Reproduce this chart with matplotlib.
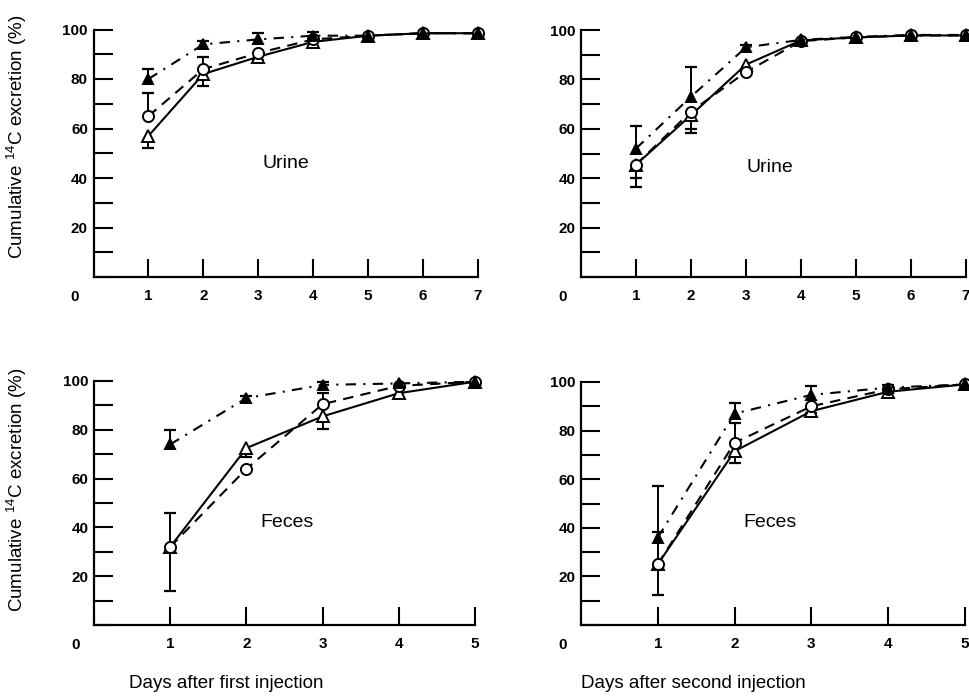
import matplotlib
matplotlib.use('Agg')
import matplotlib.pyplot as plt

plt.rcParams['font.family'] = ['Liberation Sans', 'DejaVu Sans']

W, H = 969, 696

days7 = [1, 2, 3, 4, 5, 6, 7]
days5 = [1, 2, 3, 4, 5]

# Urine, first injection
u1_open_tri = [57, 82, 89, 95, 97.5, 98.5, 98.5]
u1_circle = [65, 84, 90.5, 96, 97.5, 98.5, 98.5]
u1_fill_tri = [80, 94, 96, 97.5, 97.5, 98.5, 98.5]
u1_open_tri_lo = [5, 5, 1.5, 0, 0, 0, 0]
u1_circle_up = [9.5, 5, 0, 0, 0, 0, 0]
u1_fill_tri_up = [4, 1.5, 2.5, 1.5, 0, 0, 0]

# Urine, second injection
u2_open_tri = [45.5, 65.5, 86, 95.8, 97, 97.8, 97.8]
u2_circle = [45.5, 67, 83, 95.5, 97, 97.8, 97.8]
u2_fill_tri = [52, 73, 93, 96, 97.2, 98, 98]
u2_open_tri_lo = [5.5, 5.5, 0, 0, 0, 0, 0]
u2_circle_lo = [9, 8.5, 0, 0, 0, 0, 0]
u2_fill_tri_up = [9, 12, 1, 0, 0, 0, 0]

# Feces, first injection
f1_open_tri = [32, 72.5, 85.5, 95, 99.7]
f1_circle = [32, 64, 90.5, 98, 99.7]
f1_fill_tri = [74, 93, 98.4, 99, 99.7]
f1_open_tri_lo = [18, 3.5, 5, 0, 0]
f1_circle_up = [14, 0, 4.5, 0, 0]
f1_fill_tri_up = [6, 1, 1, 0, 0]

# Feces, second injection
f2_open_tri = [25, 71.5, 88, 96, 99]
f2_circle = [25, 75, 90, 97, 99]
f2_fill_tri = [36, 87, 94.7, 97.7, 99]
f2_open_tri_lo = [12.5, 5, 0.8, 0, 0]
f2_circle_up = [32, 8, 0, 0, 0]
f2_fill_tri_up = [2.3, 4.5, 3.5, 1, 0]

y_ticks = list(range(0, 101, 10))
y_ticklabels = ['' if (v % 20 or v == 0) else str(v) for v in y_ticks]

panels = [
    dict(rect=(93.5, 29.5, 478, 277), x=days7, label='Urine', label_xy=(3.5, 46),
         series=[(u1_open_tri, u1_open_tri_lo, None),
                 (u1_circle, None, u1_circle_up),
                 (u1_fill_tri, None, u1_fill_tri_up)]),
    dict(rect=(581, 30, 966, 277), x=days7, label='Urine', label_xy=(3.44, 44.5),
         series=[(u2_open_tri, u2_open_tri_lo, None),
                 (u2_circle, u2_circle_lo, None),
                 (u2_fill_tri, None, u2_fill_tri_up)]),
    dict(rect=(94, 381, 475, 625), x=days5, label='Feces', label_xy=(2.53, 42),
         series=[(f1_open_tri, f1_open_tri_lo, None),
                 (f1_circle, None, f1_circle_up),
                 (f1_fill_tri, None, f1_fill_tri_up)]),
    dict(rect=(581, 382, 965, 625), x=days5, label='Feces', label_xy=(2.46, 42),
         series=[(f2_open_tri, f2_open_tri_lo, None),
                 (f2_circle, None, f2_circle_up),
                 (f2_fill_tri, None, f2_fill_tri_up)]),
]

styles = [
    dict(ls='-', marker='^', mfc='white', ms=8.5),
    dict(ls=(0, (5, 3.5)), marker='o', mfc='white', ms=8),
    dict(ls=(0, (5, 3.5, 1, 3.5)), marker='^', mfc='black', ms=7),
]

fig = plt.figure(figsize=(W / 100, H / 100), dpi=100)

for p in panels:
    x0, yt, x1, yb = p['rect']
    ax = fig.add_axes([x0 / W, 1 - yb / H, (x1 - x0) / W, (yb - yt) / H])
    xs = p['x']
    for (vals, lo, up), st in zip(p['series'], styles):
        ax.plot(xs, vals, color='black', lw=1.5, ls=st['ls'], marker=st['marker'],
                ms=st['ms'], mfc=st['mfc'], mec='black', mew=1.4,
                clip_on=False, zorder=3)
        for i, xv in enumerate(xs):
            for errs, sign in ((lo, -1), (up, 1)):
                if errs is None or errs[i] <= 0:
                    continue
                yend = vals[i] + sign * errs[i]
                ax.plot([xv, xv], [vals[i], yend], color='black', lw=1.4,
                        zorder=2, clip_on=False)
                ax.plot([xv], [yend], marker='_', ms=8, mew=1.6, color='black',
                        zorder=2, clip_on=False)
    ax.set_xlim(0, xs[-1])
    ax.set_ylim(0, 100)
    ax.set_xticks(xs)
    ax.set_xticklabels([str(v) for v in xs])
    ax.set_yticks(y_ticks)
    ax.set_yticklabels(y_ticklabels)
    for s in ('top', 'right'):
        ax.spines[s].set_visible(False)
    for s in ('left', 'bottom'):
        ax.spines[s].set_linewidth(1.6)
    ax.tick_params(axis='y', direction='in', length=14, width=1.5, labelsize=11, pad=4)
    ax.tick_params(axis='x', direction='in', length=13, width=1.5, labelsize=11, pad=9)
    for lbl in ax.get_yticklabels() + ax.get_xticklabels():
        lbl.set_fontweight('bold')
    ax.text(p['label_xy'][0], p['label_xy'][1], p['label'], fontsize=14,
            ha='center', va='center')
    fig.text((x0 - 18.5) / W, 1 - (yb + 20) / H, '0', fontsize=11, fontweight='bold',
             ha='center', va='center')

ylabel = 'Cumulative $^{\\mathregular{14}}$C excretion (%)'
fig.text(17 / W, 1 - 137 / H, ylabel, rotation=90, fontsize=13.5, ha='center', va='center')
fig.text(17 / W, 1 - 490 / H, ylabel, rotation=90, fontsize=13.5, ha='center', va='center')
fig.text(226 / W, 1 - 683 / H, 'Days after first injection', fontsize=13.5,
         ha='center', va='center')
fig.text(693 / W, 1 - 683 / H, 'Days after second injection', fontsize=13.5,
         ha='center', va='center')

fig.savefig('out.png', dpi=100)
